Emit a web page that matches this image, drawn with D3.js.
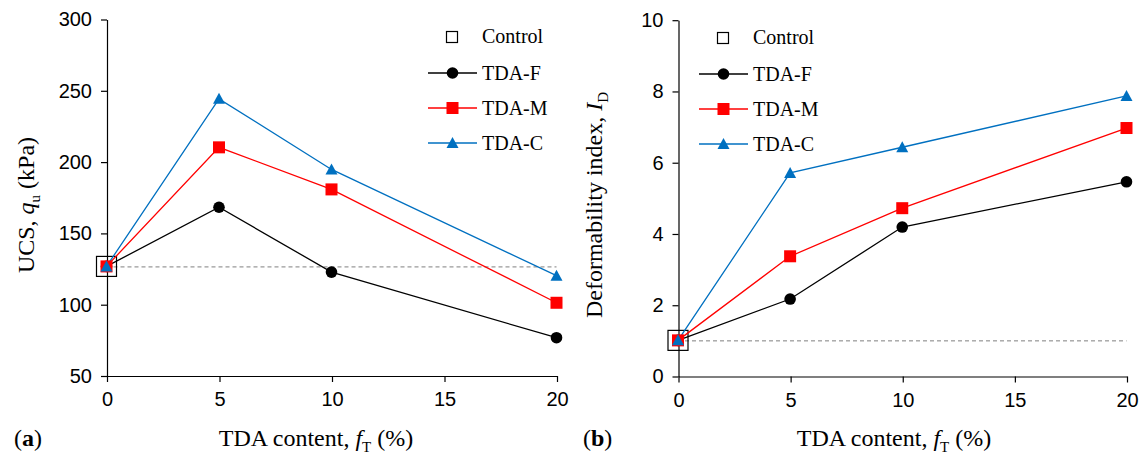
<!DOCTYPE html>
<html>
<head>
<meta charset="utf-8">
<script src="https://cdn.jsdelivr.net/npm/d3@7"></script>
<style>
  body { margin: 0; background: #fff; }
  .serif { font-family: "Liberation Serif", "Times New Roman", serif; fill: #000; }
</style>
</head>
<body>
<div id="chart"></div>
<script>
// TDA content (%)
var tdaContent = [0, 5, 10, 20]
var xTicks = [0, 5, 10, 15, 20]

// UCS, qu (kPa)
var ucsControl = 126.5
var ucsF = [126.5, 168, 122.5, 76.5]
var ucsM = [126.5, 210, 180.5, 101]
var ucsC = [126.5, 244, 194.5, 120]
var ucsTicks = [50, 100, 150, 200, 250, 300]

// Deformability index, ID
var idControl = 1
var idF = [1, 2.16, 4.18, 5.45]
var idM = [1, 3.36, 4.71, 6.96]
var idC = [1, 5.70, 6.42, 7.86]
var idTicks = [0, 2, 4, 6, 8, 10]

var seriesNames = ["TDA-F", "TDA-M", "TDA-C"]
var seriesColors = ["#000000", "#ff0000", "#0070c0"]
var seriesShapes = ["circle", "square", "triangle"]

var svg = d3.select("#chart")
  .append("svg")
  .attr("width", 1142)
  .attr("height", 455)

function drawMarker(g, shape, color, cx, cy){
    if(shape == "circle"){
        g.append("circle").attr("cx", cx).attr("cy", cy).attr("r", 5.8).attr("fill", color)
    }
    else if(shape == "square"){
        g.append("rect").attr("x", cx - 6).attr("y", cy - 6).attr("width", 12).attr("height", 12).attr("fill", color)
    }
    else {
        g.append("path")
          .attr("d", "M" + cx + "," + (cy - 6) + "L" + (cx + 6) + "," + (cy + 5) + "L" + (cx - 6) + "," + (cy + 5) + "Z")
          .attr("fill", color)
    }
}

function drawPanel(opt){
    var g = svg.append("g")
    var x = d3.scaleLinear().domain([0, 20]).range(opt.xRange)
    var y = d3.scaleLinear().domain(opt.yDomain).range(opt.yRange)

    // axes
    g.append("g")
      .attr("transform", "translate(" + (opt.xRange[0] + 0.5) + ",0.5)")
      .call(d3.axisLeft(y).tickValues(opt.yTicks).tickSize(6).tickSizeOuter(0).tickPadding(9))
    g.append("g")
      .attr("transform", "translate(0.5," + (opt.yRange[0] + 0.5) + ")")
      .call(d3.axisBottom(x).tickValues(xTicks).tickSize(6).tickSizeOuter(0).tickPadding(10))
    g.selectAll(".domain, .tick line").attr("stroke", "#000").attr("stroke-width", 1.2)
    g.selectAll(".tick text")
      .attr("fill", "#000")
      .style("font-family", "'Liberation Sans', Arial, sans-serif")
      .style("font-size", "20px")

    // control dashed line
    g.append("line")
      .attr("x1", x(0)).attr("x2", x(20))
      .attr("y1", y(opt.control) + 0.5).attr("y2", y(opt.control) + 0.5)
      .attr("stroke", "#7f7f7f").attr("stroke-width", 1).attr("stroke-dasharray", "4,3")

    // control box
    g.append("rect")
      .attr("x", x(0) - 10).attr("y", y(opt.control) - 10)
      .attr("width", 20).attr("height", 20)
      .attr("fill", "none").attr("stroke", "#000").attr("stroke-width", 1.2)

    var line = d3.line()
      .x(function(d, i){ return x(tdaContent[i]) })
      .y(function(d){ return y(d) })

    opt.series.forEach(function(values, s){
        g.append("path")
          .attr("d", line(values))
          .attr("fill", "none")
          .attr("stroke", seriesColors[s])
          .attr("stroke-width", 1.3)
    })
    opt.series.forEach(function(values, s){
        values.forEach(function(v, i){
            drawMarker(g, seriesShapes[s], seriesColors[s], x(tdaContent[i]), y(v))
        })
    })

    // legend
    var lg = g.append("g")
    lg.append("rect")
      .attr("x", opt.legendX + 24 - 5.5).attr("y", opt.legendY - 5.5)
      .attr("width", 11).attr("height", 11)
      .attr("fill", "none").attr("stroke", "#000").attr("stroke-width", 1.2)
    lg.append("text").attr("class", "serif")
      .attr("x", opt.legendX + 54).attr("y", opt.legendY + 6)
      .style("font-size", "20px").text("Control")
    seriesNames.forEach(function(name, s){
        var ly = opt.legendY + 36 + s * 35
        lg.append("line")
          .attr("x1", opt.legendX).attr("x2", opt.legendX + 49)
          .attr("y1", ly).attr("y2", ly)
          .attr("stroke", seriesColors[s]).attr("stroke-width", 1.3)
        drawMarker(lg, seriesShapes[s], seriesColors[s], opt.legendX + 24.5, ly)
        lg.append("text").attr("class", "serif")
          .attr("x", opt.legendX + 54).attr("y", ly + 7)
          .style("font-size", "20px").text(name)
    })

    // x title
    var xt = g.append("text").attr("class", "serif")
      .attr("x", opt.xTitleX).attr("y", 446)
      .attr("text-anchor", "middle")
      .style("font-size", "24px")
    xt.append("tspan").text("TDA content, ")
    xt.append("tspan").style("font-style", "italic").text("f")
    xt.append("tspan").attr("dy", 6).style("font-size", "15px").text("T")
    xt.append("tspan").attr("dy", -6).text(" (%)")

    // y title
    var yt = g.append("text").attr("class", "serif")
      .attr("transform", "translate(" + opt.yTitleX + ",205) rotate(-90)")
      .attr("text-anchor", "middle")
      .style("font-size", "24px")
    opt.yTitle(yt)

    // panel letter
    var pl = g.append("text").attr("class", "serif")
      .attr("x", opt.letterX).attr("y", 446)
      .style("font-size", "24px")
    pl.append("tspan").text("(")
    pl.append("tspan").style("font-weight", "bold").text(opt.letter)
    pl.append("tspan").text(")")
}

drawPanel({
    xRange: [106.5, 556.5],
    yRange: [375.5, 19],
    yDomain: [50, 300],
    yTicks: ucsTicks,
    control: ucsControl,
    series: [ucsF, ucsM, ucsC],
    legendX: 428,
    legendY: 37,
    xTitleX: 316,
    yTitleX: 34,
    letterX: 14,
    letter: "a",
    yTitle: function(t){
        t.append("tspan").text("UCS, ")
        t.append("tspan").style("font-style", "italic").text("q")
        t.append("tspan").attr("dy", 6).style("font-size", "15px").text("u")
        t.append("tspan").attr("dy", -6).text(" (kPa)")
    }
})

drawPanel({
    xRange: [678, 1126.5],
    yRange: [376, 19.7],
    yDomain: [0, 10],
    yTicks: idTicks,
    control: idControl,
    series: [idF, idM, idC],
    legendX: 699,
    legendY: 38,
    xTitleX: 894,
    yTitleX: 602,
    letterX: 583,
    letter: "b",
    yTitle: function(t){
        t.append("tspan").text("Deformability index, ")
        t.append("tspan").style("font-style", "italic").text("I")
        t.append("tspan").attr("dy", 6).style("font-size", "15px").text("D")
    }
})
</script>
</body>
</html>
